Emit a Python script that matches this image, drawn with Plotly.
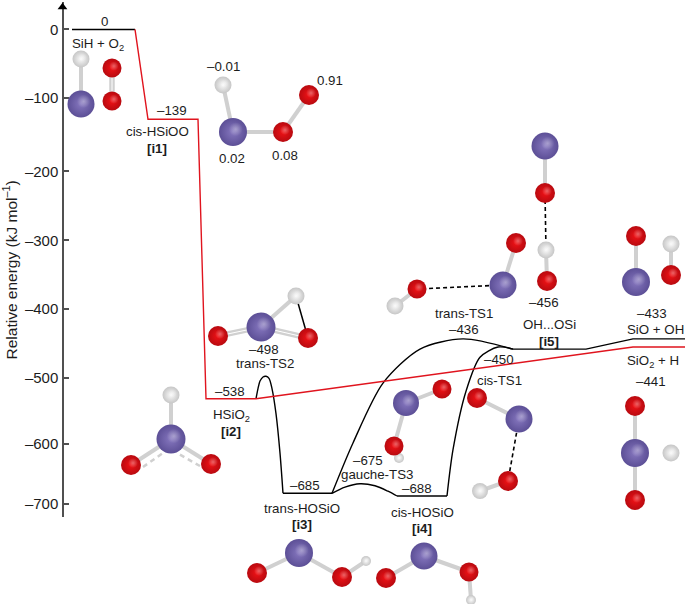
import plotly.graph_objects as go

# ---------- energy profile (x is schematic reaction coordinate, y) ----------
tick_positions = [0, -100.7, -208.8, -310, -411, -512.5, -609.5, -698]
tick_labels = ["0", "–100", "–200", "–300", "–400", "–500", "–600", "–700"]

red_x = [135, 148, 198, 206, 256, 633, 685]
red_e = [0, -132, -132, -543, -543, -467, -467]

start_x = [72, 135]
start_e = [0, 0]
ts2_x = [256, 258, 260, 263, 266, 269, 272, 276, 280, 283]
ts2_e = [-543, -528, -517, -511, -510, -513, -528, -565, -623, -682]
i3_x = [283, 332]
i3_e = [-682, -682]
ts3_x = [332, 345, 360, 375, 388, 397]
ts3_e = [-682, -673, -668, -671, -679, -686]
i4_x = [397, 447]
i4_e = [-686, -686]
cis_x = [447, 453, 466, 480, 498, 513]
cis_e = [-686, -618, -532, -482, -467, -470]
trans_x = [332, 353, 383, 420, 463, 513]
trans_e = [-682, -608, -520, -470, -455, -470]
i5_x = [513, 586, 633, 685]
i5_e = [-470, -470, -455, -455]

# ---------- molecules: atoms (element, x, y, diameter) on the page overlay, bonds by atom index ----------
molecules = [
    {"atoms": [("H", 81, 59, 17), ("Si", 81, 104, 27), ("O", 112, 68, 19), ("O", 112, 101, 19)],
     "bonds": [(0, 1)], "double": [(2, 3)]},
    {"atoms": [("H", 223, 85, 17), ("Si", 233, 132, 28), ("O", 283, 132, 20), ("O", 309, 95, 20)],
     "bonds": [(0, 1), (1, 2), (2, 3)]},
    {"atoms": [("O", 218, 336, 20), ("Si", 261, 327, 29), ("O", 308, 338, 20), ("H", 296, 296, 17)],
     "bonds": [(1, 3)], "double": [(0, 1), (1, 2)], "solid": [(3, 2)]},
    {"atoms": [("H", 171, 395, 17), ("Si", 171, 439, 29), ("O", 131, 465, 20), ("O", 211, 464, 20)],
     "bonds": [(0, 1), (1, 2), (1, 3)]},
    {"atoms": [("O", 257, 573, 20), ("Si", 299, 553, 28), ("O", 342, 577, 20), ("H", 366, 561, 10)],
     "bonds": [(0, 1), (1, 2), (2, 3)]},
    {"atoms": [("O", 386, 578, 20), ("Si", 424, 556, 27), ("O", 469, 572, 19), ("H", 471, 600, 10)],
     "bonds": [(0, 1), (1, 2), (2, 3)]},
    {"atoms": [("Si", 406, 403, 26), ("O", 442, 389, 19), ("O", 394, 446, 19), ("H", 399, 458, 10)],
     "bonds": [(0, 1), (0, 2), (2, 3)]},
    {"atoms": [("O", 477, 398, 20), ("Si", 519, 419, 27), ("O", 508, 481, 20), ("H", 480, 491, 16)],
     "bonds": [(0, 1), (2, 3)], "dashed": [(1, 2)]},
    {"atoms": [("O", 635, 406, 20), ("Si", 635, 453, 28), ("O", 635, 500, 20), ("H", 671, 453, 17)],
     "bonds": [(0, 1), (1, 2)]},
    {"atoms": [("O", 516, 243, 20), ("Si", 503, 285, 27), ("O", 417, 289, 19), ("H", 395, 306, 17)],
     "bonds": [(0, 1), (2, 3)], "dashed": [(1, 2)]},
    {"atoms": [("Si", 545, 146, 27), ("O", 545, 193, 20), ("H", 546, 250, 17), ("O", 547, 281, 20)],
     "bonds": [(0, 1), (2, 3)], "dashed": [(1, 2)]},
    {"atoms": [("O", 636, 236, 20), ("Si", 636, 282, 28), ("H", 671, 244, 17), ("O", 671, 275, 20)],
     "bonds": [(0, 1), (2, 3)]},
]
# grey partial bonds under the HSiO2 structure
partial_x = [143, 163, None, 200, 177]
partial_y = [467, 453, None, 466, 453]

# ---------- text labels ----------
label_text = [
    "0", "SiH + O<sub>2</sub>", "–139", "cis-HSiOO", "<b>[i1]</b>",
    "–0.01", "0.91", "0.02", "0.08", "–498", "trans-TS2",
    "–538", "HSiO<sub>2</sub>", "<b>[i2]</b>", "–685", "trans-HOSiO", "<b>[i3]</b>",
    "–675", "gauche-TS3", "–688", "cis-HOSiO", "<b>[i4]</b>",
    "trans-TS1", "–436", "–456", "OH...OSi", "<b>[i5]</b>", "–450", "cis-TS1",
    "–433", "SiO + OH", "SiO<sub>2</sub> + H", "–441",
]
label_x = [
    104, 98, 172, 157, 157,
    223, 330, 232, 285, 264, 265,
    230, 231, 231, 305, 302, 302,
    368, 377, 417, 422, 422,
    464, 464, 544, 549, 549, 499, 499,
    652, 655, 653, 651,
]
label_y = [
    21, 44, 110, 131, 148,
    66, 80, 158, 155, 349, 363,
    391, 415, 431, 485, 508, 524,
    460, 474, 488, 512, 528,
    313, 329, 302, 324, 341, 359, 380,
    313, 329, 361, 381,
]
axis_title = "Relative energy (kJ mol<sup>–1</sup>)"

# ---------- styling ----------
FONT = "Liberation Sans, Arial, sans-serif"
TEXT = "#1c1c1c"
CENTER = {"Si": "#8677bf", "O": "#f01216", "H": "#fafafa"}
EDGE = {"Si": "#5c4f96", "O": "#b80a10", "H": "#c6c6c6"}
BOND = "#d0d0d0"

fig = go.Figure()


def profile(x, e, color="black", spline=False):
    fig.add_trace(go.Scatter(
        x=x, y=e, mode="lines", hoverinfo="skip",
        line=dict(color=color, width=1.4, shape="spline" if spline else "linear", smoothing=0.8),
    ))


profile(start_x, start_e)
profile(ts2_x, ts2_e, spline=True)
profile(i3_x, i3_e)
profile(ts3_x, ts3_e, spline=True)
profile(i4_x, i4_e)
profile(cis_x, cis_e, spline=True)
profile(trans_x, trans_e, spline=True)
profile(i5_x, i5_e)
profile(red_x, red_e, color="#e0141e")


def segments(mol, key):
    xs, ys = [], []
    for a, b in mol.get(key, []):
        xs += [mol["atoms"][a][1], mol["atoms"][b][1], None]
        ys += [mol["atoms"][a][2], mol["atoms"][b][2], None]
    return xs, ys


def overlay(xs, ys, **kw):
    fig.add_trace(go.Scatter(x=xs, y=ys, yaxis="y2", hoverinfo="skip", cliponaxis=False, **kw))


bx, by, dx, dy, sx, sy, hx, hy = [], [], [], [], [], [], [], []
for m in molecules:
    a, b = segments(m, "bonds"); bx += a; by += b
    a, b = segments(m, "double"); dx += a; dy += b
    a, b = segments(m, "solid"); sx += a; sy += b
    a, b = segments(m, "dashed"); hx += a; hy += b

overlay(bx, by, mode="lines", line=dict(color=BOND, width=4))
overlay(partial_x, partial_y, mode="lines", line=dict(color=BOND, width=2.5, dash="5px,4px"))
overlay(dx, dy, mode="lines", line=dict(color=BOND, width=5.5))
overlay(dx, dy, mode="lines", line=dict(color="#ffffff", width=1))
overlay(sx, sy, mode="lines", line=dict(color="black", width=1.5))
overlay(hx, hy, mode="lines", line=dict(color="black", width=1.6, dash="4px,3px"))

for el in ["H", "O", "Si"]:
    pts = [p for m in molecules for p in m["atoms"] if p[0] == el]
    overlay([p[1] for p in pts], [p[2] for p in pts], mode="markers",
            marker=dict(size=[p[3] for p in pts], color=EDGE[el], line_width=0, opacity=1,
                        gradient=dict(type="radial", color=CENTER[el])))
    overlay([p[1] + p[3] * 0.1 for p in pts], [p[2] - p[3] * 0.1 for p in pts], mode="markers",
            marker=dict(size=[p[3] * 0.5 for p in pts], color="rgba(255,255,255,0)", line_width=0, opacity=1,
                        gradient=dict(type="radial", color="rgba(255,255,255,0.35)")))

# axis arrow head
overlay([62.5], [7], mode="markers",
        marker=dict(symbol="triangle-up", size=[8.5], color="black", line_width=0, opacity=1))

annotations = [
    dict(x=x, y=y, xref="x", yref="y2", text=t, showarrow=False, xanchor="center", yanchor="middle",
         font=dict(family=FONT, size=13.3, color=TEXT))
    for t, x, y in zip(label_text, label_x, label_y)
]
annotations.append(dict(x=10.5, y=270, xref="x", yref="y2", text=axis_title, showarrow=False, textangle=-90,
                        xanchor="center", yanchor="middle", font=dict(family=FONT, size=15.5, color=TEXT)))

fig.update_layout(
    width=685, height=604, autosize=False,
    margin=dict(l=0, r=0, t=0, b=0),
    paper_bgcolor="white", plot_bgcolor="rgba(0,0,0,0)",
    showlegend=False,
    annotations=annotations,
    font=dict(family=FONT, color=TEXT),
    xaxis=dict(range=[0, 685], domain=[0, 1], visible=False, fixedrange=True),
    yaxis=dict(
        range=[-716.9, 40.4], domain=[87 / 604, 602 / 604],
        anchor="free", position=62.5 / 685,
        showline=True, linecolor="#505050", linewidth=2.4,
        showgrid=False, zeroline=False,
        ticks="inside", ticklen=5, tickwidth=1.5, tickcolor="#505050",
        tickmode="array", tickvals=tick_positions, ticktext=tick_labels,
        tickfont=dict(family=FONT, size=15, color=TEXT),
        fixedrange=True,
    ),
    yaxis2=dict(range=[604, 0], domain=[0, 1], anchor="x", visible=False, fixedrange=True),
)

fig.write_html("out.html", config=dict(displayModeBar=False),
               post_script="document.body.style.margin='0';document.body.style.overflow='hidden';")
